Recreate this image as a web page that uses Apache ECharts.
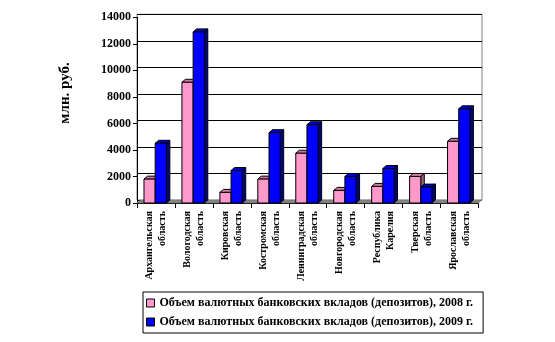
<!DOCTYPE html>
<html><head><meta charset="utf-8">
<script src="https://cdn.jsdelivr.net/npm/echarts@6/dist/echarts.min.js"></script>
<style>html,body{margin:0;padding:0;background:#fff}#c{width:555px;height:342px}</style>
</head><body><div id="c"></div>
<script>
var categories = ['Архангельская\nобласть','Вологодская\nобласть','Кировская\nобласть','Костромская\nобласть','Ленинградская\nобласть','Новгородская\nобласть','Республика\nКарелия','Тверская\nобласть','Ярославская\nобласть'];
var values2008 = [1800, 9100, 800, 1800, 3750, 950, 1250, 2000, 4650];
var values2009 = [4500, 12900, 2450, 5300, 5900, 2000, 2600, 1200, 7100];
var yTicks = [0, 2000, 4000, 6000, 8000, 10000, 12000, 14000];
var name2008 = 'Объем валютных банковских вкладов (депозитов), 2008 г.';
var name2009 = 'Объем валютных банковских вкладов (депозитов), 2009 г.';

var FONT = '"Liberation Serif","Times New Roman",serif';
var DX = 3.5, DY = -3;
var styles = [
  {front:'#ff99cc', top:'#cc7aa3', side:'#99667f'},
  {front:'#0000ff', top:'#0000cc', side:'#000080'}
];
function barRender(s){
  return function(params, api){
    var i = api.value(0), v = api.value(1);
    var bw = api.size([1,0])[0];
    var c = api.coord([i, 0]);
    var start = c[0] - bw/2;
    var w = bw*11.2/38;
    var x0 = start + bw*7/38 + s*w;
    var yb = c[1];
    var yt = api.coord([i, v])[1];
    var st = styles[s];
    var ln = {stroke:'#000', lineWidth:1};
    return {type:'group', children:[
      {type:'polygon', shape:{points:[[x0+w,yt],[x0+w+DX,yt+DY],[x0+w+DX,yb+DY],[x0+w,yb]]}, style:Object.assign({fill:st.side}, ln)},
      {type:'polygon', shape:{points:[[x0,yt],[x0+DX,yt+DY],[x0+w+DX,yt+DY],[x0+w,yt]]}, style:Object.assign({fill:st.top}, ln)},
      {type:'rect', shape:{x:x0, y:yt, width:w, height:yb-yt}, style:Object.assign({fill:st.front}, ln)}
    ]};
  };
}
function floorRender(params, api){
  var i = api.value(0);
  var bw = api.size([1,0])[0];
  var c = api.coord([i, 0]);
  var s = c[0]-bw/2, e = c[0]+bw/2, y = c[1];
  return {type:'polygon', shape:{points:[[s,y],[s+DX,y+DY],[e+DX,y+DY],[e,y]]}, style:{fill:'#808080', stroke:'#808080', lineWidth:0.5}};
}

var chart = echarts.init(document.getElementById('c'));
var gL = 137, gT = 17.3, gW = 341.5, gH = 185.7;
chart.setOption({
  animation:false,
  grid:[
    {left:gL, top:gT, width:gW, height:gH, containLabel:false},
    {left:gL, top:gT+DY, width:gW+DX, height:gH, show:true, borderColor:'#808080', borderWidth:1, backgroundColor:'transparent'}
  ],
  xAxis:[
    {type:'category', gridIndex:0, data:categories,
     axisLine:{lineStyle:{color:'#000', width:1}},
     axisTick:{show:true, length:5, lineStyle:{color:'#000'}},
     axisLabel:{interval:0, rotate:90, margin:8, fontFamily:FONT, fontWeight:'bold', fontSize:10, lineHeight:13, color:'#000'}},
    {type:'category', gridIndex:1, data:categories, show:false}
  ],
  yAxis:[
    {type:'value', gridIndex:0, min:0, max:14000, interval:2000,
     axisLine:{show:true, lineStyle:{color:'#000'}},
     axisTick:{show:true, length:4, lineStyle:{color:'#000'}},
     splitLine:{show:false},
     axisLabel:{fontFamily:FONT, fontWeight:'bold', fontSize:12, color:'#000', margin:6,
       formatter:function(v){return yTicks.indexOf(v)>=0 ? String(v) : '';}}},
    {type:'value', gridIndex:1, min:0, max:14000, interval:2000,
     axisLine:{show:false}, axisTick:{show:false}, axisLabel:{show:false},
     splitLine:{show:true, lineStyle:{color:'#000', width:1}}}
  ],
  legend:{
    orient:'vertical', left:143, top:292, width:335,
    padding:[5,10,5,3], itemGap:7, itemWidth:8, itemHeight:8,
    borderColor:'#000', borderWidth:1,
    textStyle:{fontFamily:FONT, fontWeight:'bold', fontSize:12, color:'#000'},
    data:[
      {name:name2008, icon:'rect', itemStyle:{color:'#ff99cc', borderColor:'#000', borderWidth:1}},
      {name:name2009, icon:'rect', itemStyle:{color:'#0000ff', borderColor:'#000', borderWidth:1}}
    ]
  },
  graphic:[
    {type:'text', x:65, y:93, rotation:Math.PI/2, style:{text:'млн. руб.', font:'bold 15px '+FONT, fill:'#000', textAlign:'center', textVerticalAlign:'middle'}}
  ],
  series:[
    {type:'custom', name:'floor', xAxisIndex:0, yAxisIndex:0, z:1, renderItem:floorRender,
     data:categories.map(function(c,i){return [i,0];}), silent:true},
    {type:'custom', name:name2008, xAxisIndex:0, yAxisIndex:0, z:2, renderItem:barRender(0),
     itemStyle:{color:'#ff99cc'},
     data:values2008.map(function(v,i){return [i,v];})},
    {type:'custom', name:name2009, xAxisIndex:0, yAxisIndex:0, z:3, renderItem:barRender(1),
     itemStyle:{color:'#0000ff'},
     data:values2009.map(function(v,i){return [i,v];})}
  ]
});
</script></body></html>
